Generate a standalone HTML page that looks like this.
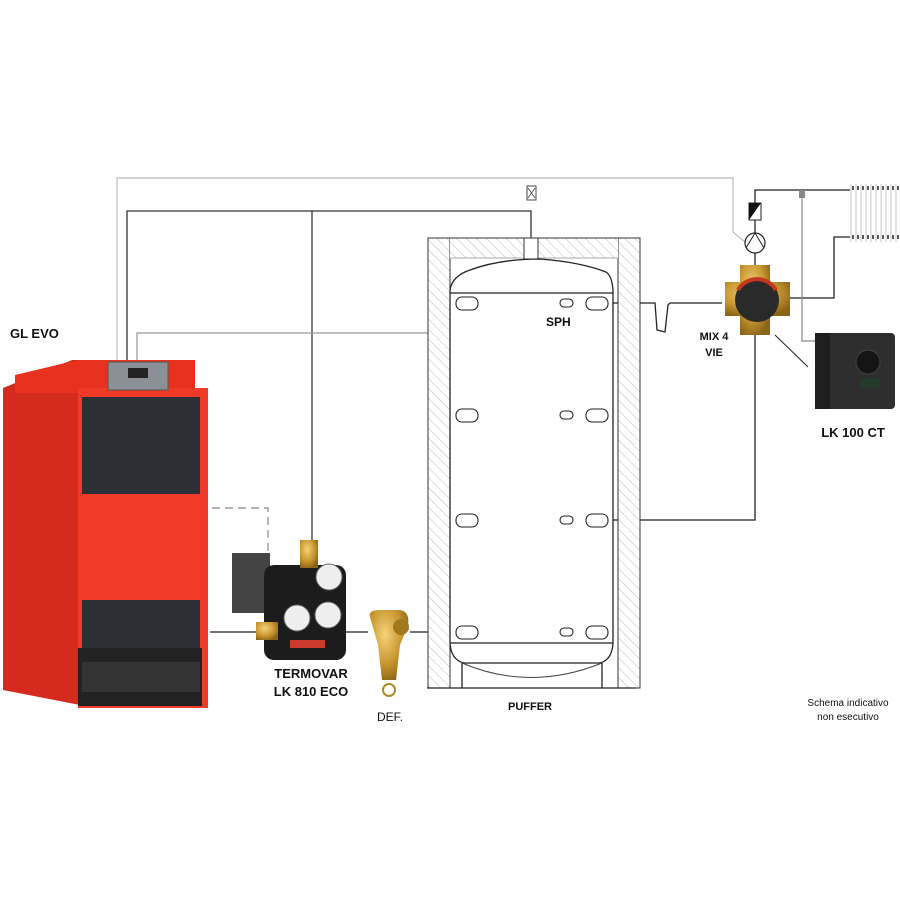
<!DOCTYPE html>
<html><head><meta charset="utf-8"><style>
html,body{margin:0;padding:0;background:#fff}
svg{display:block}
text{font-family:"Liberation Sans",Arial,sans-serif}
</style></head><body>
<svg width="900" height="900" viewBox="0 0 900 900" xmlns="http://www.w3.org/2000/svg">
<defs>
<pattern id="h" width="7" height="7" patternUnits="userSpaceOnUse" patternTransform="rotate(-45)">
<rect width="7" height="7" fill="#fff"/><line x1="0" y1="0" x2="0" y2="7" stroke="#aaa" stroke-width="0.8"/>
</pattern>
<radialGradient id="brass" cx="40%" cy="35%" r="70%"><stop offset="0" stop-color="#f3d27a"/><stop offset="0.6" stop-color="#c9972f"/><stop offset="1" stop-color="#8a6418"/></radialGradient>
</defs>

<g fill="none">
<polyline points="117,360 117,178 733,178 733,232 745,242" stroke="#bbb" stroke-width="1.2"/>
<polyline points="127,360 127,211 531,211 531,240" stroke="#333" stroke-width="1.3"/>
<line x1="312" y1="211" x2="312" y2="542" stroke="#333" stroke-width="1.3"/>
<polyline points="137,360 137,333 571,333 571,318" stroke="#999" stroke-width="1.2"/>
<polyline points="212,508 268,508 268,555" stroke="#888" stroke-width="1.2" stroke-dasharray="8,5"/>
<line x1="210" y1="632" x2="258" y2="632" stroke="#222" stroke-width="1.3"/>
<line x1="345" y1="632" x2="368" y2="632" stroke="#222" stroke-width="1.3"/>
<line x1="410" y1="632" x2="458" y2="632" stroke="#222" stroke-width="1.3"/>
<polyline points="608,303 655,303 657,330 665,332 668,305 670,303 722,303" stroke="#222" stroke-width="1.3"/>
<polyline points="755,272 755,190 850,190" stroke="#222" stroke-width="1.3"/>
<polyline points="790,298 834,298 834,237 850,237" stroke="#222" stroke-width="1.3"/>
<polyline points="802,197 802,341 815,341" stroke="#888" stroke-width="1.2"/>
<polyline points="755,335 755,520 608,520" stroke="#222" stroke-width="1.3"/>
<line x1="775" y1="335" x2="808" y2="367" stroke="#222" stroke-width="1"/>
</g>
<rect x="527" y="186" width="9" height="14" fill="#fff" stroke="#444"/>
<path d="M528,188 L535,198 M535,188 L528,198" stroke="#444" stroke-width="0.8"/>
<rect x="799" y="190" width="6" height="8" fill="#888"/>
<rect x="568" y="311" width="5" height="9" fill="#888"/>

<rect x="428" y="238" width="22" height="450" fill="url(#h)" stroke="#333"/>
<rect x="618" y="238" width="22" height="450" fill="url(#h)" stroke="#333"/>
<rect x="450" y="238" width="168" height="20" fill="url(#h)" stroke="none"/>
<line x1="428" y1="238" x2="640" y2="238" stroke="#333"/>
<line x1="450" y1="258" x2="618" y2="258" stroke="#aaa"/>
<rect x="524" y="238" width="14" height="21" fill="#fff" stroke="#333"/>
<path d="M450,290 Q452,276 470,270 Q500,259 540,259 Q580,262 606,272 Q612,276 613,290 L613,643 Q612,660 600,663 L464,663 Q451,660 450,643 Z" fill="#fff" stroke="#222" stroke-width="1.3"/>
<line x1="450" y1="293" x2="613" y2="293" stroke="#222" stroke-width="1.2"/>
<line x1="450" y1="643" x2="613" y2="643" stroke="#222" stroke-width="1.2"/>
<path d="M462,663 Q530,692 602,663" fill="none" stroke="#444"/>
<line x1="462" y1="663" x2="462" y2="688" stroke="#222" stroke-width="1.3"/>
<line x1="602" y1="663" x2="602" y2="688" stroke="#222" stroke-width="1.3"/>
<line x1="427" y1="688" x2="636" y2="688" stroke="#222" stroke-width="1.3"/>
<g fill="#fff" stroke="#222" stroke-width="1.1">
<rect x="456" y="297" width="22" height="13" rx="6"/><rect x="456" y="409" width="22" height="13" rx="6"/><rect x="456" y="514" width="22" height="13" rx="6"/><rect x="456" y="626" width="22" height="13" rx="6"/>
<rect x="586" y="297" width="22" height="13" rx="6"/><rect x="586" y="409" width="22" height="13" rx="6"/><rect x="586" y="514" width="22" height="13" rx="6"/><rect x="586" y="626" width="22" height="13" rx="6"/>
<rect x="560" y="299" width="13" height="8" rx="4"/><rect x="560" y="411" width="13" height="8" rx="4"/><rect x="560" y="516" width="13" height="8" rx="4"/><rect x="560" y="628" width="13" height="8" rx="4"/>
</g>

<rect x="749" y="203" width="12" height="17" fill="#fff" stroke="#222"/>
<path d="M749,220 L761,203 L749,203 Z" fill="#111"/>
<circle cx="755" cy="243" r="10" fill="#fff" stroke="#222" stroke-width="1.2"/>
<path d="M746,248 L755,233 L764,248" fill="none" stroke="#222"/>

<g stroke="#bbb" stroke-width="0.8" fill="none">
<path d="M851,184 v58 M856,184 v58 M861,184 v58 M866,184 v58 M871,184 v58 M876,184 v58 M881,184 v58 M886,184 v58 M891,184 v58 M896,184 v58"/>
</g>
<g stroke="#222" stroke-width="1.5" fill="none">
<path d="M853,186 v4 M858,186 v4 M863,186 v4 M868,186 v4 M873,186 v4 M878,186 v4 M883,186 v4 M888,186 v4 M893,186 v4 M898,186 v4"/>
<path d="M853,235 v4 M858,235 v4 M863,235 v4 M868,235 v4 M873,235 v4 M878,235 v4 M883,235 v4 M888,235 v4 M893,235 v4 M898,235 v4"/>
</g>

<rect x="740" y="265" width="30" height="70" fill="url(#brass)"/>
<rect x="725" y="282" width="65" height="34" fill="url(#brass)"/>
<circle cx="757" cy="300" r="22" fill="#2a2a2a"/>
<path d="M738,290 A22,22 0 0 1 776,290" fill="none" stroke="#c5381f" stroke-width="4"/>

<rect x="815" y="333" width="80" height="76" rx="4" fill="#2e2e2e"/>
<rect x="815" y="333" width="15" height="76" fill="#1e1e1e"/>
<circle cx="868" cy="362" r="12" fill="#151515" stroke="#444"/>
<rect x="860" y="378" width="20" height="10" fill="#243a2a"/>

<polygon points="3,388 72,360 80,360 80,705 3,690" fill="#d52a1e"/>
<polygon points="15,375 78,360 195,360 195,393 15,393" fill="#e8321f"/>
<rect x="78" y="388" width="130" height="320" fill="#ee3a26"/>
<rect x="108" y="362" width="60" height="28" fill="#8a9096" stroke="#555"/>
<rect x="128" y="368" width="20" height="10" fill="#222"/>
<rect x="82" y="397" width="118" height="97" fill="#2c2f36"/>
<rect x="80" y="496" width="125" height="103" fill="#ef3b27"/>
<rect x="82" y="600" width="118" height="62" fill="#2c2f36"/>
<rect x="78" y="648" width="124" height="58" fill="#222"/>
<rect x="82" y="662" width="118" height="30" fill="#333"/>

<rect x="232" y="553" width="38" height="60" fill="#444"/>
<rect x="264" y="565" width="82" height="95" rx="10" fill="#1c1c1c"/>
<rect x="300" y="540" width="18" height="28" fill="url(#brass)"/>
<rect x="256" y="622" width="22" height="18" fill="url(#brass)"/>
<circle cx="329" cy="577" r="13" fill="#eee" stroke="#666"/>
<circle cx="297" cy="618" r="13" fill="#eee" stroke="#666"/>
<circle cx="328" cy="615" r="13" fill="#eee" stroke="#666"/>
<rect x="290" y="640" width="35" height="8" fill="#c93a2a"/>

<path d="M370,617 Q368,610 380,610 L400,610 Q410,612 408,625 L400,645 L396,680 L382,680 L378,645 Z" fill="url(#brass)"/>
<circle cx="401" cy="627" r="8" fill="#a0781e"/>
<circle cx="389" cy="690" r="6" fill="none" stroke="#b08a2a" stroke-width="2"/>

<g font-weight="bold" fill="#111">
<text x="10" y="338" font-size="13">GL EVO</text>
<text x="311" y="678" font-size="13" text-anchor="middle">TERMOVAR</text>
<text x="311" y="696" font-size="13" text-anchor="middle">LK 810 ECO</text>
<text x="530" y="710" font-size="11" text-anchor="middle">PUFFER</text>
<text x="546" y="326" font-size="12">SPH</text>
<text x="714" y="340" font-size="11" text-anchor="middle">MIX 4</text>
<text x="714" y="356" font-size="11" text-anchor="middle">VIE</text>
<text x="853" y="437" font-size="13" text-anchor="middle">LK 100 CT</text>
</g>
<text x="390" y="721" font-size="12" text-anchor="middle" fill="#111">DEF.</text>
<text x="848" y="706" font-size="10" text-anchor="middle" fill="#111">Schema indicativo</text>
<text x="848" y="720" font-size="10" text-anchor="middle" fill="#111">non esecutivo</text>
</svg>
</body></html>
